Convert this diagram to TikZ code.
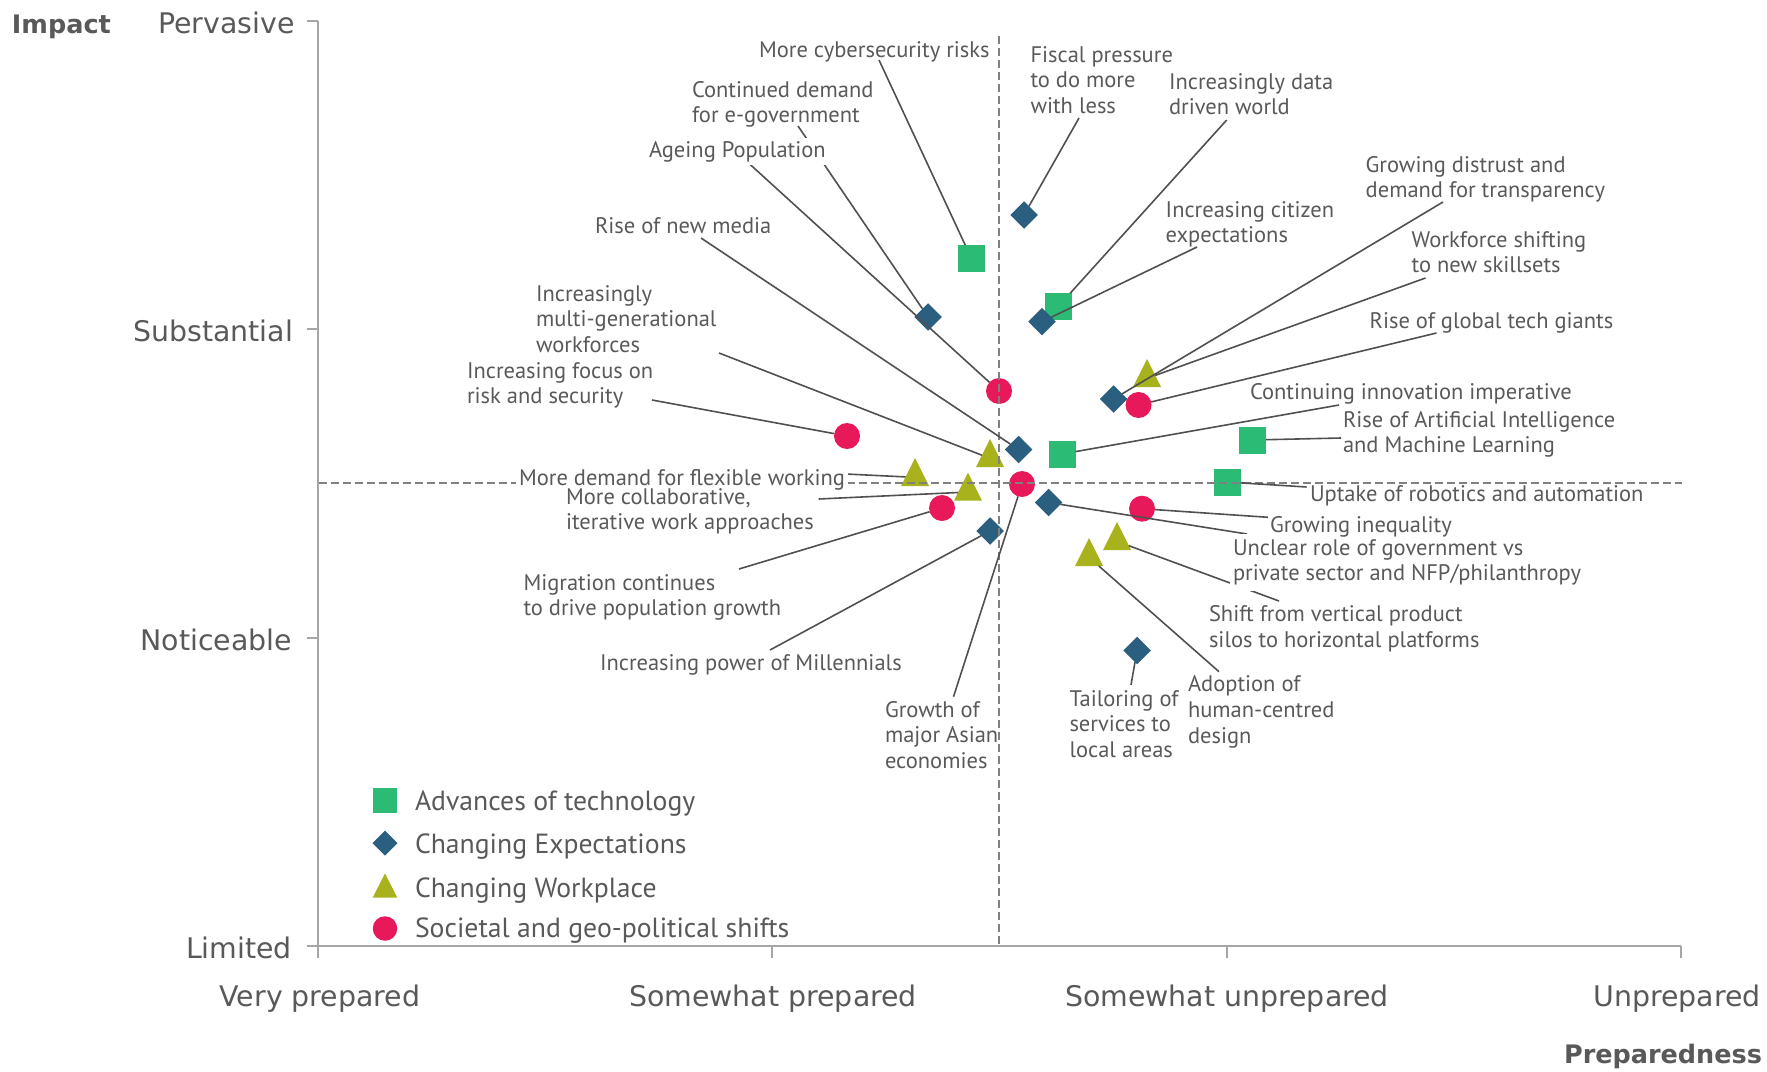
\documentclass[tikz,border=0pt]{standalone}
\usepackage{fontspec}
\setmainfont{PT Sans}
\newfontfamily\axfont{DejaVu Sans}
\usetikzlibrary{shapes.geometric}
\definecolor{cgreen}{HTML}{2BBB74}
\definecolor{cblue}{HTML}{2A5F80}
\definecolor{colive}{HTML}{A8B21C}
\definecolor{cred}{HTML}{E8195A}
\definecolor{ctext}{HTML}{595959}
\definecolor{caxis}{HTML}{A6A6A6}
\definecolor{cdash}{HTML}{808080}
\definecolor{cconn}{HTML}{505050}
\newcommand\lns[1]{\begin{tabular}[t]{@{}l@{}}#1\end{tabular}}
\tikzset{
  lbl/.style={font=\fontsize{22.5}{25.7}\selectfont, text=ctext, inner sep=0pt, outer sep=0pt, anchor=base west},
  occ/.style={fill=white, inner sep=3pt},
  leg/.style={font=\fontsize{27.7}{32}\selectfont, text=ctext, inner sep=0pt, outer sep=0pt, anchor=base west},
  axl/.style={font=\axfont\fontsize{28.4}{32}\selectfont, text=ctext, inner sep=0pt, outer sep=0pt},
  axb/.style={font=\axfont\bfseries\fontsize{25.5}{30}\selectfont, text=ctext, inner sep=0pt, outer sep=0pt},
  sq/.style={rectangle, fill=cgreen, minimum size=27pt, inner sep=0pt, outer sep=0pt},
  dm/.style={diamond, fill=cblue, minimum width=27.5pt, minimum height=27.5pt, inner sep=0pt, outer sep=0pt},
  tri/.style={isosceles triangle, isosceles triangle stretches, shape border rotate=90, fill=colive, minimum width=28pt, minimum height=28pt, inner sep=0pt, outer sep=0pt, anchor=south},
  cir/.style={circle, fill=cred, minimum size=26pt, inner sep=0pt, outer sep=0pt},
  conn/.style={draw=cconn, line width=1.6pt},
  dsh/.style={draw=cdash, line width=1.6pt, dash pattern=on 7.5pt off 4.5pt},
  ax/.style={draw=caxis, line width=2pt}
}
\begin{document}
\begin{tikzpicture}[x=1pt,y=-1pt]
\useasboundingbox (0,0) rectangle (1767,1071);
% axes
\draw[ax] (318,21) -- (318,946) -- (1681,946);
\foreach \yy in {21,329.3,637.7,946} \draw[ax] (306.5,\yy) -- (318,\yy);
\foreach \xx in {318,772.3,1226.7,1681} \draw[ax] (\xx,946) -- (\xx,957.5);
% axis labels
\node[axb, anchor=base west] (impact) at (12,33) {Impact};
\node[axl, anchor=base east] (pv) at (294.5,33) {Pervasive};
\node[axl, anchor=base east] (sb) at (293,341) {Substantial};
\node[axl, anchor=base east] (nt) at (292,650.5) {Noticeable};
\node[axl, anchor=base east] (lm) at (292,958) {Limited};
\node[axl, anchor=base] (vp) at (320,1006) {Very prepared};
\node[axl, anchor=base] (swp) at (773,1006) {Somewhat prepared};
\node[axl, anchor=base] (swu) at (1227,1006) {Somewhat unprepared};
\node[axl, anchor=base] (up) at (1677,1006) {Unprepared};
\node[axb, anchor=base east] (prep) at (1762,1063) {Preparedness};
% legend
\node[sq, minimum size=24.5pt] (lg1) at (385,800.5) {};
\node[dm, minimum width=25pt, minimum height=25pt] (lg2) at (385,843) {};
\node[tri, minimum width=24.5pt, minimum height=24pt] (lg3) at (385,897.5) {};
\node[cir, minimum size=24.5pt] (lg4) at (385,928.5) {};
\node[leg] (lt1) at (415,810) {Advances of technology};
\node[leg] (lt2) at (415,853.5) {Changing Expectations};
\node[leg] (lt3) at (415,897) {Changing Workplace};
\node[leg] (lt4) at (415,937.5) {Societal and geo-political shifts};
% markers
\node[sq] (sq1) at (971.5,258.5) {};
\node[sq] (sq2) at (1058,306.7) {};
\node[sq] (sq3) at (1062,454) {};
\node[sq] (sq4) at (1252.5,440) {};
\node[sq] (sq5) at (1227,482) {};
\node[dm] (di1) at (1024,215) {};
\node[dm] (di2) at (928,317) {};
\node[dm] (di3) at (1042,321.7) {};
\node[dm] (di4) at (1113.5,399) {};
\node[dm] (di5) at (1018.5,449.5) {};
\node[dm] (di6) at (1048.5,502.5) {};
\node[dm] (di7) at (990,531) {};
\node[dm] (di8) at (1137,650.5) {};
\node[tri] (tr1) at (1147,387) {};
\node[tri] (tr2) at (990,467) {};
\node[tri] (tr3) at (915,486) {};
\node[tri] (tr4) at (968,500.7) {};
\node[tri] (tr5) at (1117,550) {};
\node[tri] (tr6) at (1089,566) {};
\node[cir] (ci1) at (999,391) {};
\node[cir] (ci2) at (847,436) {};
\node[cir] (ci3) at (1138.5,405) {};
\node[cir] (ci4) at (1022,484) {};
\node[cir] (ci5) at (1142,508.7) {};
\node[cir] (ci6) at (942,508) {};
% dashed quadrant lines
\draw[dsh] (999,36) -- (999,945);
\draw[dsh] (319,483) -- (1682,483);
% connector label ends
\coordinate (c1) at (879,60);
\coordinate (c2) at (1079,118);
\coordinate (c3) at (1226.7,120);
\coordinate (c4) at (798,126);
\coordinate (c5) at (748.5,163);
\coordinate (c6) at (1443,202);
\coordinate (c7) at (1197,247);
\coordinate (c8) at (701,238);
\coordinate (c9) at (1425.5,278);
\coordinate (c10) at (719,353);
\coordinate (c11) at (1436.5,333);
\coordinate (c12) at (652,400);
\coordinate (c13) at (1339,405);
\coordinate (c14) at (1341,438);
\coordinate (c15) at (845.7,474);
\coordinate (c16) at (818.7,499);
\coordinate (c17) at (1306.6,487);
\coordinate (c18) at (1268,517.3);
\coordinate (c19) at (739,569);
\coordinate (c20) at (1247,534);
\coordinate (c21) at (1279,601);
\coordinate (c22) at (770,650);
\coordinate (c23) at (1219,671.7);
\coordinate (c24) at (1131,685);
\coordinate (c25) at (953.5,696.7);
% connectors
\draw[conn] (c1) -- (sq1);
\draw[conn] (c2) -- (di1);
\draw[conn] (c3) -- (sq2);
\draw[conn] (c4) -- (di2);
\draw[conn] (c5) -- (ci1);
\draw[conn] (c6) -- (di4);
\draw[conn] (c7) -- (di3);
\draw[conn] (c8) -- (di5);
\draw[conn] (c9) -- (tr1);
\draw[conn] (c10) -- (tr2);
\draw[conn] (c11) -- (ci3);
\draw[conn] (c12) -- (ci2);
\draw[conn] (c13) -- (sq3);
\draw[conn] (c14) -- (sq4);
\draw[conn] (c15) -- (tr3);
\draw[conn] (c16) -- (tr4);
\draw[conn] (c17) -- (sq5);
\draw[conn] (c18) -- (ci5);
\draw[conn] (c19) -- (ci6);
\draw[conn] (c20) -- (di6);
\draw[conn] (c21) -- (tr5);
\draw[conn] (c22) -- (di7);
\draw[conn] (c23) -- (tr6);
\draw[conn] (c24) -- (di8);
\draw[conn] (c25) -- (ci4);
% labels that hide what passes behind them
\node[lbl, occ] (L5) at (646,157) {Ageing Population};
\node[lbl, occ] (L15) at (516,485) {More demand for flexible working};
\node[lbl, occ] (L20) at (1230,555) {\lns{Unclear role of government vs\\private sector and NFP/philanthropy}};
% other labels
\node[lbl] (L1) at (759,57) {More cybersecurity risks};
\node[lbl] (L2) at (1030.5,62) {\lns{Fiscal pressure\\to do more\\with less}};
\node[lbl] (L3) at (1169,89) {\lns{Increasingly data\\driven world}};
\node[lbl] (L4) at (692,97) {\lns{Continued demand\\for e-government}};
\node[lbl] (L6) at (1365.7,172) {\lns{Growing distrust and\\demand for transparency}};
\node[lbl] (L7) at (1165.7,217) {\lns{Increasing citizen\\expectations}};
\node[lbl] (L8) at (595,233) {Rise of new media};
\node[lbl] (L9) at (1411.7,247) {\lns{Workforce shifting\\to new skillsets}};
\node[lbl] (L10) at (536,301) {\lns{Increasingly\\multi-generational\\workforces}};
\node[lbl] (L11) at (1369.6,328) {Rise of global tech giants};
\node[lbl] (L12) at (467,378) {\lns{Increasing focus on\\risk and security}};
\node[lbl] (L13) at (1250,399.5) {Continuing innovation imperative};
\node[lbl] (L14) at (1343,427) {\lns{Rise of Artificial Intelligence\\and Machine Learning}};
\node[lbl] (L16) at (566,504) {\lns{More collaborative,\\iterative work approaches}};
\node[lbl] (L17) at (1310,501.7) {Uptake of robotics and automation};
\node[lbl] (L18) at (1270,532.7) {Growing inequality};
\node[lbl] (L19) at (523.5,590) {\lns{Migration continues\\to drive population growth}};
\node[lbl] (L21) at (1209,621.7) {\lns{Shift from vertical product\\silos to horizontal platforms}};
\node[lbl] (L22) at (600,670.5) {Increasing power of Millennials};
\node[lbl] (L23) at (1188,691.7) {\lns{Adoption of\\human-centred\\design}};
\node[lbl] (L24) at (1069.5,706) {\lns{Tailoring of\\services to\\local areas}};
\node[lbl] (L25) at (885,717) {\lns{Growth of\\major Asian\\economies}};
\end{tikzpicture}
\end{document}
